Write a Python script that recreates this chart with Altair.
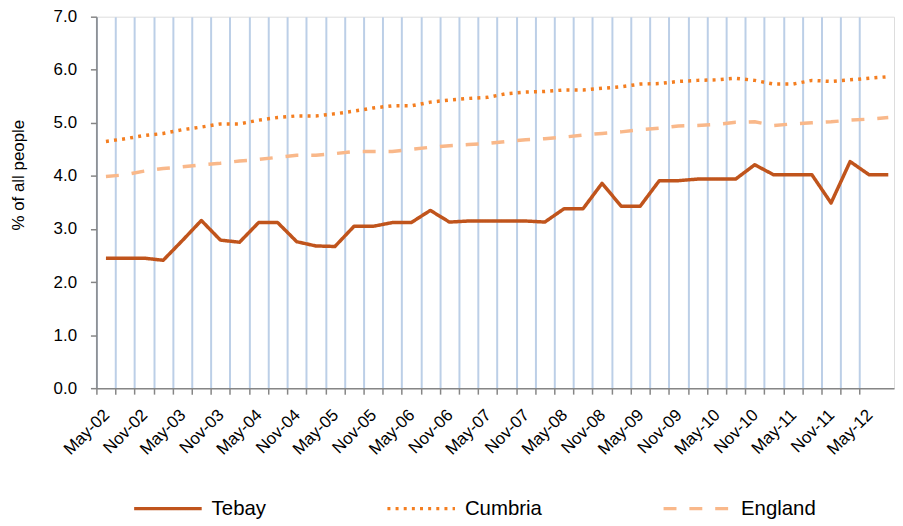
import json
import altair as alt
import pandas as pd

periods = ["May-02", "Aug-02", "Nov-02", "Feb-03", "May-03", "Aug-03", "Nov-03", "Feb-04",
           "May-04", "Aug-04", "Nov-04", "Feb-05", "May-05", "Aug-05", "Nov-05", "Feb-06",
           "May-06", "Aug-06", "Nov-06", "Feb-07", "May-07", "Aug-07", "Nov-07", "Feb-08",
           "May-08", "Aug-08", "Nov-08", "Feb-09", "May-09", "Aug-09", "Nov-09", "Feb-10",
           "May-10", "Aug-10", "Nov-10", "Feb-11", "May-11", "Aug-11", "Nov-11", "Feb-12",
           "May-12", "Aug-12"]

tebay = [2.45, 2.45, 2.45, 2.41, 2.78, 3.16, 2.79, 2.75, 3.12, 3.12,
         2.76, 2.68, 2.67, 3.05, 3.05, 3.12, 3.12, 3.35, 3.13, 3.15,
         3.15, 3.15, 3.15, 3.13, 3.38, 3.38, 3.86, 3.43, 3.43, 3.91,
         3.91, 3.94, 3.94, 3.94, 4.21, 4.02, 4.02, 4.02, 3.49, 4.27,
         4.02, 4.02]

cumbria = [4.65, 4.70, 4.76, 4.80, 4.87, 4.92, 4.98, 4.98, 5.05, 5.10,
           5.13, 5.13, 5.17, 5.22, 5.28, 5.32, 5.32, 5.39, 5.43, 5.46,
           5.48, 5.55, 5.58, 5.59, 5.62, 5.62, 5.65, 5.68, 5.73, 5.74,
           5.78, 5.80, 5.81, 5.84, 5.80, 5.73, 5.73, 5.80, 5.78, 5.81,
           5.84, 5.87]

england = [3.99, 4.02, 4.09, 4.14, 4.17, 4.21, 4.24, 4.28, 4.31, 4.35,
           4.39, 4.39, 4.42, 4.46, 4.46, 4.46, 4.50, 4.54, 4.57, 4.59,
           4.61, 4.65, 4.68, 4.70, 4.73, 4.77, 4.80, 4.83, 4.87, 4.90,
           4.94, 4.95, 4.97, 5.01, 5.02, 4.95, 4.98, 5.00, 5.02, 5.05,
           5.07, 5.10]

series_names = ["Tebay", "Cumbria", "England"]
series_colors = ["#C0541C", "#F47E20", "#F9B88A"]
series_dashes = [[1, 0], [3, 5.2], [13, 13]]
y_ticks = [0, 1, 2, 3, 4, 5, 6, 7]

rows = []
for name, vals in zip(series_names, [tebay, cumbria, england]):
    for i, v in enumerate(vals):
        rows.append({"idx": i, "period": periods[i], "series": name, "value": v})
df = pd.DataFrame(rows)

# category boundaries for ticks / vertical grid lines
boundaries = [i - 0.5 for i in range(len(periods) - 1)]
label_expr = ("((datum.value + 0.5) % 2 == 0) ? " + json.dumps(periods) +
              "[datum.value + 0.5] : ''")

FONT = "Liberation Sans"
AXIS_GRAY = "#868686"

legend = alt.Legend(
    title=None, orient="none", legendX=36, legendY=459,
    direction="horizontal", columns=3, columnPadding=115,
    symbolType="stroke", symbolSize=4624, symbolStrokeWidth=3.5,
    labelFontSize=20.5, labelFont=FONT, labelColor="#000000", labelOffset=8,
    padding=0, rowPadding=0,
)

chart = alt.Chart(df).mark_line(strokeWidth=3.5, strokeJoin="round").encode(
    x=alt.X("idx:Q",
            scale=alt.Scale(domain=[-0.5, 41.3], nice=False, zero=False),
            axis=alt.Axis(values=boundaries, labelExpr=label_expr, title=None,
                          labelAngle=-45, labelAlign="right", labelBaseline="middle",
                          labelOffset=10, labelPadding=18, labelOverlap=False,
                          labelFlush=False, labelFontSize=17, labelFont=FONT,
                          labelColor="#000000",
                          grid=True, gridColor="#BCCFE7", gridWidth=2,
                          tickSize=6, tickColor=AXIS_GRAY, tickWidth=1.5,
                          domainColor=AXIS_GRAY, domainWidth=1.5)),
    y=alt.Y("value:Q",
            scale=alt.Scale(domain=[0, 7], nice=False),
            axis=alt.Axis(values=y_ticks, format=".1f", grid=False,
                          title="% of all people", titleFontSize=17,
                          titleFont=FONT, titleFontWeight="normal",
                          titleColor="#000000", titlePadding=26, titleY=159,
                          labelFontSize=17, labelFont=FONT, labelColor="#000000",
                          labelPadding=14, tickSize=6, tickColor=AXIS_GRAY,
                          tickWidth=1.5, domainColor=AXIS_GRAY, domainWidth=1.5)),
    color=alt.Color("series:N",
                    scale=alt.Scale(domain=series_names, range=series_colors),
                    legend=legend),
    strokeDash=alt.StrokeDash("series:N",
                              scale=alt.Scale(domain=series_names, range=series_dashes),
                              legend=legend),
    order=alt.Order("idx:Q"),
).properties(
    width=803, height=374,
    autosize=alt.AutoSizeParams(type="none"),
    padding={"left": 89, "top": 7, "right": 1, "bottom": 137},
).configure_view(stroke=None).configure(font=FONT, background="white")

chart.save("out.html", embed_options={"renderer": "svg", "actions": False})
